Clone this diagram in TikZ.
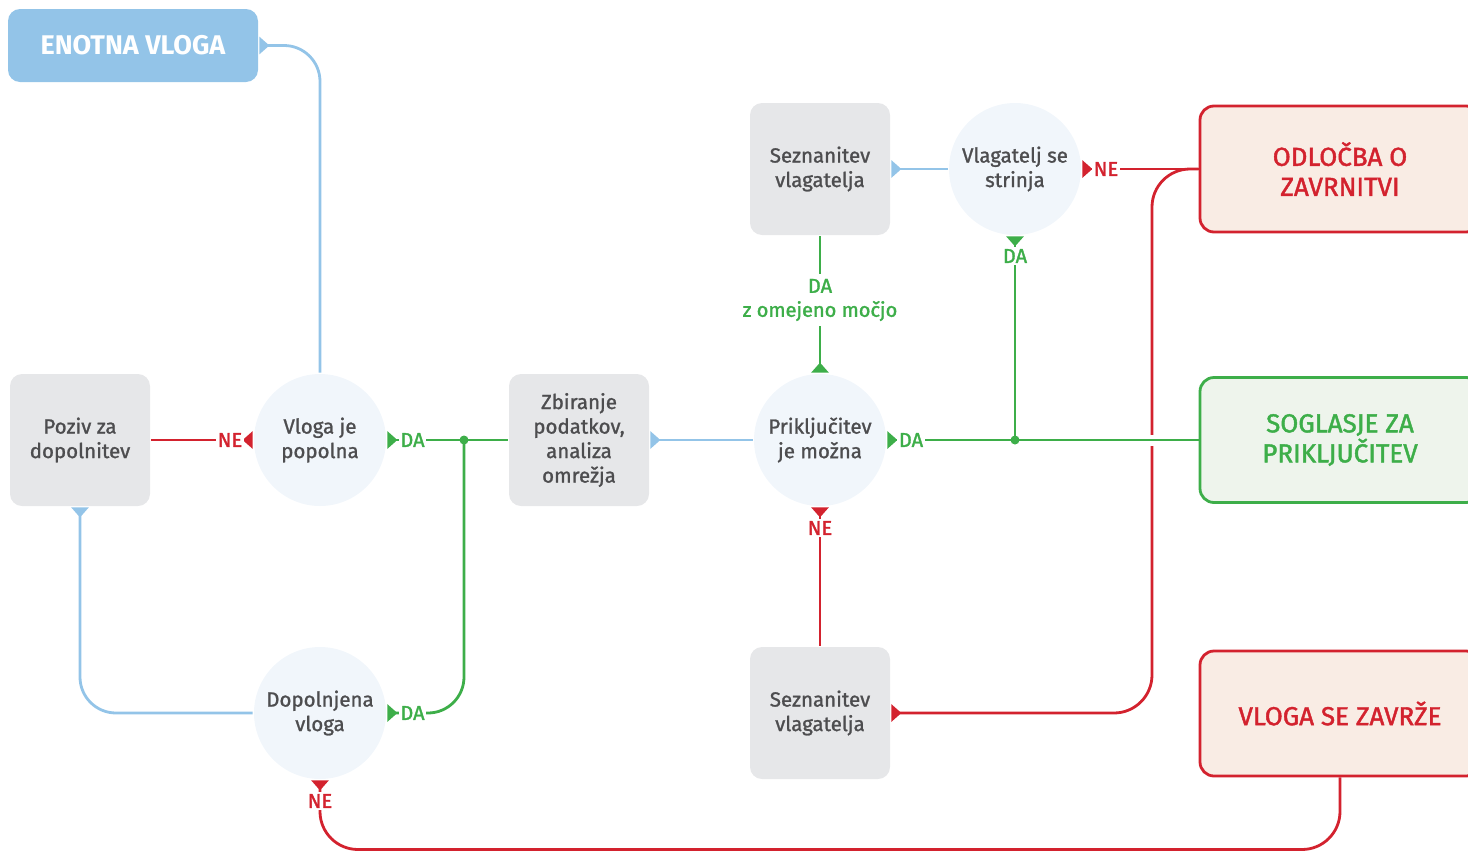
\documentclass[tikz,border=0pt]{standalone}
\usepackage{fontspec}
\setmainfont{Fira Sans}
\newfontfamily\semi{Fira Sans}[FakeBold=1.2]
\newfontfamily\semiplus{Fira Sans}[FakeBold=1.6]
\usetikzlibrary{arrows.meta}
\usepackage{xcolor}

\definecolor{lineblue}{HTML}{93C4E8}
\definecolor{okgreen}{HTML}{3DAE49}
\definecolor{nored}{HTML}{D3222E}
\definecolor{boxgray}{HTML}{E6E7E9}
\definecolor{txtgray}{HTML}{4D4D4F}
\definecolor{decfill}{HTML}{F1F6FB}
\definecolor{nofill}{HTML}{F9ECE4}
\definecolor{okfill}{HTML}{EEF4EC}

\newcommand{\bodyfont}{\semi\fontsize{20.5}{24.5}\selectfont}
\newcommand{\lblfont}{\semiplus\fontsize{20}{24}\selectfont}
\newcommand{\bigfont}{\semiplus\fontsize{26}{30}\selectfont}

\tikzset{flag/.tip={Triangle[reversed,length=10pt,width=17pt]}}

\begin{document}
\begin{tikzpicture}
	[x=1pt,y=-1pt,line width=2.8pt,
	gbox/.style = {
		fill=boxgray, rounded corners=12pt,
		minimum width=140pt, minimum height=132pt,
		align=center, text=txtgray, font=\bodyfont
	},
	dec/.style = {
		circle, fill=decfill, inner sep=0pt, minimum size=132pt,
		align=center, text=txtgray, font=\bodyfont
	},
	start/.style = {
		fill=lineblue, rounded corners=12pt,
		minimum width=250pt, minimum height=73pt,
		text=white, font=\fontsize{27}{30}\selectfont\bfseries
	},
	nobox/.style = {
		draw=nored, fill=nofill, rounded corners=14pt,
		minimum width=280pt, minimum height=126pt,
		align=center, text=nored, font=\bigfont
	},
	okbox/.style = {
		draw=okgreen, fill=okfill, rounded corners=14pt,
		minimum width=280pt, minimum height=125pt,
		align=center, text=okgreen, font=\bigfont
	},
	blueline/.style = {draw=lineblue, rounded corners=36pt},
	okline/.style = {draw=okgreen, rounded corners=36pt},
	noline/.style = {draw=nored, rounded corners=38pt},
	lbl/.style = {
		fill=white, inner xsep=1.5pt, inner ysep=2pt,
		align=center, font=\lblfont
	},
	dot/.style = {
		fill=okgreen, circle, inner sep=0pt, minimum size=9pt
	},
	gap/.style = {
		fill=white, inner sep=0pt, minimum width=8pt, minimum height=11pt
	}]

	\useasboundingbox (0,0) rectangle (1468,852);
	\clip (0,0) rectangle (1468,852);

	%Draw nodes
	\node[start] at (133,45.5) (ev) {ENOTNA VLOGA};
	\node[gbox] at (80,440) (pz) {Poziv za\\dopolnitev};
	\node[dec] at (320,440) (vp) {Vloga je\\popolna};
	\node[gbox] at (579,440) (zb) {Zbiranje\\podatkov,\\analiza\\omrežja};
	\node[dec] at (820,440) (pm) {Priključitev\\je možna};
	\node[gbox] at (820,169) (sz1) {Seznanitev\\vlagatelja};
	\node[dec] at (1015,169) (vs) {Vlagatelj se\\strinja};
	\node[gbox] at (820,713) (sz2) {Seznanitev\\vlagatelja};
	\node[dec] at (320,713) (dv) {Dopolnjena\\vloga};

	\node[nobox] at (1340,169) (od) {ODLOČBA O\\ZAVRNITVI};
	\node[okbox] at (1340,440) (so) {SOGLASJE ZA\\PRIKLJUČITEV};
	\node[nobox, minimum height=125pt] at (1340,713.5) (vz) {VLOGA SE ZAVRŽE};

	\coordinate (j1) at (464,440);
	\coordinate (j2) at (1015,440);
	\coordinate (rb) at (1152,440);
	\coordinate (bot) at (830,849.5);

	%Draw wires
	\draw[blueline,flag-] (ev.east) -| (vp.north);
	\draw[noline,flag-] (vp.west) -- (pz.east);
	\draw[okline,flag-] (vp.east) -- (zb.west);
	\draw[blueline,flag-] (zb.east) -- (pm.west);

	\draw[okline,flag-] (pm.north) -- (sz1.south);
	\draw[blueline,flag-] (sz1.east) -- (vs.west);
	\draw[noline,flag-] (vs.east) -- (od.west);

	\draw[noline,flag-] (pm.south) -- (sz2.north);
	\draw[noline,flag-] (sz2.east) -| (rb) |- (od.west);

	\draw[blueline,flag-] (pz.south) |- (dv.west);
	\draw[okline,flag-] (dv.east) -| (j1);
	\draw[noline,flag-] (dv.south) |- (bot) -| (vz.south);

	%green line jumps over the red one
	\node[gap] at (rb) (rbgap) {};
	\draw[okline,flag-] (pm.east) -- (so.west);
	\draw[okline,flag-] (vs.south) -- (j2);

	%labels on the wires
	\node[lbl,text=nored] at (230,440) (ne1) {NE};
	\node[lbl,text=okgreen] at (412.5,440) (da1) {DA};
	\node[lbl,text=okgreen] at (911,440) (da2) {DA};
	\node[lbl,text=okgreen,inner ysep=5pt] at (820,300) (da3) {DA\\z omejeno močjo};
	\node[lbl,text=nored] at (1106,169) (ne2) {NE};
	\node[lbl,text=okgreen] at (1015,256) (da4) {DA};
	\node[lbl,text=nored] at (820,528) (ne3) {NE};
	\node[lbl,text=okgreen] at (412.5,713) (da5) {DA};
	\node[lbl,text=nored] at (320,801) (ne4) {NE};

	\node[dot] at (j1) (d1) {};
	\node[dot] at (j2) (d2) {};

\end{tikzpicture}
\end{document}
